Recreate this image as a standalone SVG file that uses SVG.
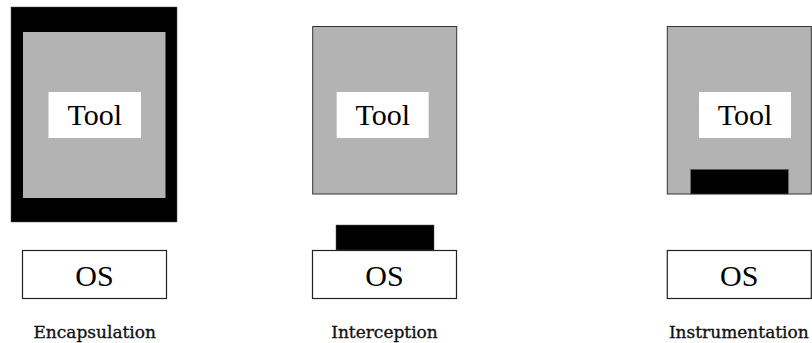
<svg xmlns="http://www.w3.org/2000/svg" width="812" height="343" viewBox="0 0 812 343">
<style>
.gray{fill:#b3b3b3;stroke:#333;stroke-width:1}
.blk{fill:#000;stroke:#555;stroke-width:0.5}
.wbox{fill:#fff}
.os{fill:#fff;stroke:#222;stroke-width:1.2}
.big{font-family:'Liberation Serif',serif;font-size:30px;fill:#000;text-anchor:middle}
.cap{font-family:'DejaVu Serif',serif;font-size:17px;fill:#111;stroke:#111;stroke-width:0.35;text-anchor:middle}
</style>
<rect width="812" height="343" fill="#fff"/>
<g id="encapsulation">
  <rect class="blk" x="11" y="7" width="166" height="215"/>
  <rect x="23" y="32" width="142.5" height="166" fill="#b3b3b3"/>
  <rect class="wbox" x="48.5" y="92" width="92.5" height="46"/>
  <text class="big" x="94.7" y="125">Tool</text>
  <rect class="os" x="22.5" y="250.5" width="144" height="48"/>
  <text class="big" x="94.5" y="286">OS</text>
  <text class="cap" x="94.7" y="337.5">Encapsulation</text>
</g>
<g id="interception">
  <rect class="gray" x="312.7" y="26.5" width="144" height="167.5"/>
  <rect class="wbox" x="336.7" y="92" width="92" height="46"/>
  <text class="big" x="382.7" y="125">Tool</text>
  <rect class="blk" x="336" y="225" width="98" height="25"/>
  <rect class="os" x="312.5" y="250.5" width="144" height="48"/>
  <text class="big" x="384.5" y="286">OS</text>
  <text class="cap" x="384.5" y="337.5">Interception</text>
</g>
<g id="instrumentation">
  <rect class="gray" x="667.3" y="26.5" width="144" height="167.5"/>
  <rect class="wbox" x="699" y="92" width="92" height="46"/>
  <text class="big" x="745" y="125">Tool</text>
  <rect class="blk" x="690.7" y="169.5" width="97.6" height="24.5"/>
  <rect class="os" x="667.3" y="250.5" width="144" height="48"/>
  <text class="big" x="739.3" y="286">OS</text>
  <text class="cap" x="738.8" y="337.5">Instrumentation</text>
</g>
<g id="connectors"></g>
</svg>
